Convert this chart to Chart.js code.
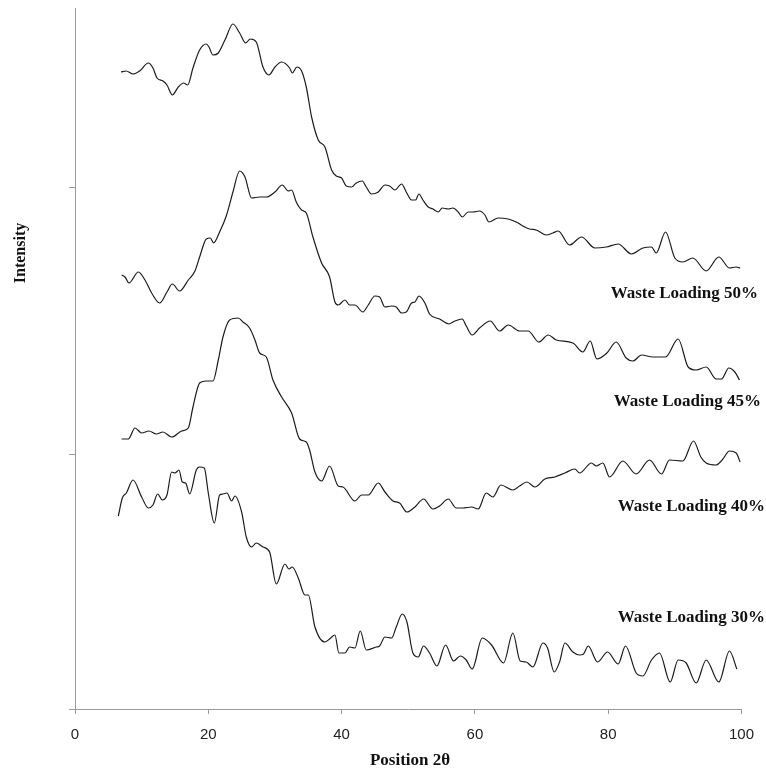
<!DOCTYPE html>
<html>
<head>
<meta charset="utf-8">
<script src="https://cdn.jsdelivr.net/npm/chart.js@4"></script>
<style>
  html, body { margin: 0; padding: 0; background: #fff; }
  canvas { display: block; }
</style>
</head>
<body>
<canvas id="xrd" width="766" height="769"></canvas>
<script>
// [2theta, intensity] pairs (intensity in arbitrary units, offsets kept)
const wl50 = [[6.9,637],[7.7,638],[8.7,635],[9.7,638],[11.0,646],[11.7,641],[12.3,631],[13.2,628],[13.8,624],[14.6,614],[15.5,622],[16.3,626],[16.9,624],[17.7,641],[18.7,659],[19.7,665],[20.1,662],[20.7,654],[21.5,656],[22.5,669],[23.7,685],[24.7,676],[25.6,666],[26.3,670],[27.2,667],[28.2,642],[29.1,634],[30.0,642],[31.0,647],[32.2,641],[32.6,636],[33.3,642],[34.0,638],[34.7,622],[35.5,592],[36.5,569],[37.5,562],[38.5,539],[39.2,533],[40.0,531],[40.7,523],[41.5,522],[42.2,526],[43.1,528],[43.7,522],[44.5,515],[45.5,517],[46.5,524],[47.2,523],[48.0,519],[49.0,525],[49.7,517],[50.5,509],[51.1,509],[51.6,515],[52.2,509],[53.0,502],[53.7,500],[54.5,497],[55.1,501],[56.0,500],[56.7,501],[57.5,497],[58.1,492],[59.0,497],[59.7,497],[60.7,498],[61.5,494],[62.1,487],[63.5,491],[65.0,490],[66.2,487],[67.2,483],[68.2,480],[69.2,479],[70.7,474],[71.7,476],[72.5,478],[74.2,464],[76.0,472],[78.0,461],[79.7,462],[81.5,465],[83.5,455],[85.2,461],[86.5,462],[87.2,456],[88.6,477],[90.0,451],[91.2,447],[92.7,451],[94.7,438],[96.6,452],[98.2,441],[99.2,442],[99.8,441]];
const wl45 = [[7.0,434],[7.5,432],[8.1,426],[9.5,437],[10.5,429],[11.5,416],[12.7,406],[13.8,417],[14.6,425],[15.7,418],[17.0,429],[18.0,438],[18.7,452],[19.7,470],[20.3,471],[20.8,466],[21.7,477],[22.7,493],[23.7,517],[24.7,538],[25.5,532],[26.5,511],[27.7,512],[28.7,512],[30.0,517],[31.1,524],[32.0,518],[32.5,519],[33.2,507],[34.0,499],[34.7,496],[35.7,472],[37.0,446],[38.2,432],[39.0,407],[39.5,404],[40.5,409],[41.2,404],[42.0,404],[43.2,397],[44.0,404],[45.0,413],[45.7,412],[46.5,402],[47.5,403],[48.2,402],[49.0,396],[49.7,397],[50.5,406],[51.0,407],[51.6,413],[52.5,406],[53.2,395],[54.7,390],[56.1,385],[57.0,388],[58.1,390],[58.7,383],[59.6,374],[60.7,381],[62.3,388],[63.7,378],[65.0,384],[66.7,378],[68.0,378],[69.6,367],[71.0,374],[72.2,369],[74.7,366],[76.2,357],[77.3,368],[78.3,350],[79.8,356],[81.2,367],[82.7,351],[83.7,348],[85.0,354],[86.7,352],[88.6,352],[90.5,370],[92.0,342],[93.2,339],[94.7,342],[96.2,330],[97.0,330],[98.1,341],[99.0,337],[99.7,329]];
const wl40 = [[7.0,270],[8.0,270],[9.0,281],[10.0,276],[11.1,278],[12.2,275],[13.2,277],[14.5,272],[16.0,278],[17.0,281],[17.7,302],[18.7,326],[19.7,328],[20.7,328],[21.5,349],[22.2,372],[23.2,389],[24.5,391],[25.2,387],[26.2,381],[27.0,369],[27.7,356],[28.7,352],[29.7,329],[31.0,312],[32.5,296],[33.7,270],[34.7,267],[35.2,259],[36.0,237],[37.0,228],[38.2,243],[39.5,223],[40.2,222],[42.0,208],[43.0,214],[44.0,214],[45.5,226],[46.5,217],[47.7,208],[48.7,206],[49.8,197],[51.0,202],[52.3,210],[53.7,200],[54.7,203],[56.0,210],[57.2,201],[58.2,201],[59.5,202],[60.5,200],[61.7,216],[62.7,212],[63.9,224],[65.7,219],[66.7,223],[67.8,227],[69.0,222],[70.5,230],[72.0,232],[73.5,236],[75.0,240],[75.7,236],[77.5,246],[78.2,243],[79.2,246],[80.2,232],[82.2,248],[84.2,235],[86.2,249],[88.0,235],[89.2,249],[91.2,248],[92.8,268],[93.9,252],[94.7,246],[96.2,244],[97.1,249],[98.2,258],[99.2,256],[99.8,247]];
const wl30 = [[6.5,193],[7.1,211],[7.7,216],[8.7,229],[10.0,212],[11.0,201],[11.7,204],[12.4,215],[13.1,209],[13.8,214],[14.5,237],[15.0,236],[15.6,239],[16.1,227],[16.6,226],[17.2,215],[18.2,239],[18.7,242],[19.4,241],[20.0,216],[20.9,186],[21.7,214],[22.2,215],[22.8,216],[23.5,208],[24.0,213],[25.0,197],[25.7,172],[26.5,162],[27.2,166],[28.2,162],[29.2,157],[30.2,125],[31.5,145],[32.1,140],[32.6,142],[33.5,131],[34.5,114],[35.0,114],[36.0,82],[37.5,67],[38.2,70],[39.0,74],[39.6,56],[40.5,56],[41.2,62],[42.0,61],[42.8,78],[43.7,59],[45.2,62],[45.7,63],[46.5,72],[47.5,71],[48.2,82],[49.1,95],[49.8,87],[50.7,56],[51.5,52],[52.3,63],[53.2,56],[54.3,43],[55.6,64],[56.8,48],[57.8,53],[58.7,49],[59.6,40],[61.1,71],[62.5,64],[64.3,46],[65.7,76],[66.8,48],[67.7,47],[68.7,42],[70.2,66],[70.9,61],[71.9,37],[72.7,47],[73.5,66],[74.7,57],[75.7,54],[76.3,55],[77.0,63],[78.4,47],[79.9,57],[81.5,45],[82.6,63],[84.2,36],[85.2,33],[86.5,49],[87.7,56],[89.3,27],[90.5,49],[91.7,46],[93.2,26],[94.7,49],[96.6,27],[98.2,58],[99.3,40]];

const seriesNames = ["Waste Loading 50%", "Waste Loading 45%", "Waste Loading 40%", "Waste Loading 30%"];
const seriesData = [wl50, wl45, wl40, wl30];
const xTicks = [0, 20, 40, 60, 80, 100];
const yTicks = [0, 255, 522];

const axisGrey = "#9a9a9a";

// series names sit to the right of each trace, axis titles in bold serif
const textLayer = {
    id: "textLayer",
    afterDraw(chart) {
        const ctx = chart.ctx;
        const spots = [[758, 298], [761, 406], [765, 511], [765, 622]];
        ctx.save();
        ctx.fillStyle = "#111";
        ctx.font = 'bold 17px "Liberation Serif"';
        ctx.textAlign = "right";
        ctx.textBaseline = "alphabetic";
        seriesNames.forEach(function (name, i) {
            ctx.fillText(name, spots[i][0], spots[i][1]);
        });

        ctx.textAlign = "center";
        ctx.fillText("Position 2\u03b8", 410, 765);

        ctx.translate(25, 253);
        ctx.rotate(-Math.PI / 2);
        ctx.font = 'bold 16px "Liberation Serif"';
        ctx.fillText("Intensity", 0, 0);
        ctx.restore();
    },
};

new Chart(document.getElementById("xrd"), {
    type: "line",
    data: {
        datasets: seriesData.map(function (pts, i) {
            return {
                label: seriesNames[i],
                data: pts.map(function (p) { return { x: p[0], y: p[1] }; }),
                borderColor: "#1c1c1c",
                borderWidth: 1.2,
                pointRadius: 0,
                fill: false,
                cubicInterpolationMode: "monotone",
            };
        }),
    },
    options: {
        responsive: false,
        animation: false,
        devicePixelRatio: 1,
        layout: { padding: { left: 69, right: 24, top: 8, bottom: 13 } },
        plugins: {
            legend: { display: false },
            tooltip: { enabled: false },
        },
        scales: {
            x: {
                type: "linear",
                min: 0,
                max: 100,
                afterBuildTicks: function (axis) {
                    axis.ticks = xTicks.map(function (v) { return { value: v }; });
                },
                grid: { drawOnChartArea: false, drawTicks: true, tickLength: 5, color: axisGrey },
                border: { color: axisGrey, width: 1 },
                ticks: {
                    padding: 12,
                    color: "#222",
                    font: { family: '"Liberation Sans"', size: 15 },
                },
            },
            y: {
                min: 0,
                max: 701,
                afterBuildTicks: function (axis) {
                    axis.ticks = yTicks.map(function (v) { return { value: v }; });
                },
                grid: { drawOnChartArea: false, drawTicks: true, tickLength: 6, color: axisGrey },
                border: { color: axisGrey, width: 1 },
                ticks: { display: false },
            },
        },
    },
    plugins: [textLayer],
});
</script>
</body>
</html>
